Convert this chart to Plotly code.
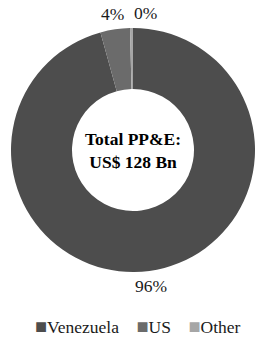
import math
import plotly.graph_objects as go

categories = ["Venezuela", "US", "Other"]
values = [122.5, 5.0, 0.5]
colors = ["#4d4d4d", "#6b6b6b", "#a6a6a6"]
center_label = "Total PP&E:<br>US$ 128 Bn"

W, H = 255, 338
FONT = "Liberation Serif"
FS = 17.5
CX, CY, R = 133, 150, 122  # pie centre / radius in px (layout only)
LABEL_R = 137

fig = go.Figure(
    go.Pie(
        labels=categories,
        values=values,
        hole=0.5,
        sort=False,
        direction="clockwise",
        rotation=0,
        marker=dict(colors=colors, line=dict(width=0)),
        textinfo="none",
        domain=dict(x=[(CX - R) / W, (CX + R) / W], y=[1 - (CY + R) / H, 1 - (CY - R) / H]),
        showlegend=False,
        hoverinfo="label+percent",
    )
)

# percentage labels placed radially at each slice's mid-angle
total = sum(values)
annotations = []
cum = 0.0
placed = []
for lab, v in zip(categories, values):
    frac = v / total
    mid = (cum + frac / 2) * 2 * math.pi
    cum += frac
    x = CX + LABEL_R * math.sin(mid)
    y = CY - LABEL_R * math.cos(mid)
    for px, py in placed:
        if abs(py - y) < 14 and abs(px - x) < 32:
            x = px + 33
    placed.append((x, y))
    annotations.append(
        dict(
            text=f"{round(frac * 100)}%",
            x=x / W,
            y=1 - y / H,
            xref="paper",
            yref="paper",
            xanchor="center",
            yanchor="middle",
            showarrow=False,
            font=dict(family=FONT, size=FS, color="#1a1a1a"),
        )
    )

legend_text = "    ".join(
    f"<span style='color:{c};font-size:20px'>■</span>{lab}" for lab, c in zip(categories, colors)
)

annotations += [
    dict(
        text=f"<b>{center_label}</b>",
        x=CX / W,
        y=1 - CY / H,
        xref="paper",
        yref="paper",
        xanchor="center",
        yanchor="middle",
        showarrow=False,
        font=dict(family=FONT, size=FS, color="#000000"),
        align="center",
    ),
    dict(
        text=legend_text,
        x=138 / W,
        y=1 - 326 / H,
        xref="paper",
        yref="paper",
        xanchor="center",
        yanchor="middle",
        showarrow=False,
        borderpad=0,
        font=dict(family=FONT, size=FS, color="#1a1a1a"),
    ),
]

fig.update_layout(
    width=W,
    height=H,
    margin=dict(l=0, r=0, t=0, b=0),
    paper_bgcolor="white",
    plot_bgcolor="white",
    font=dict(family=FONT, size=FS, color="#1a1a1a"),
    annotations=annotations,
)

fig.write_html(
    "out.html",
    config={"displayModeBar": False},
    post_script="document.body.style.margin='0';",
)
